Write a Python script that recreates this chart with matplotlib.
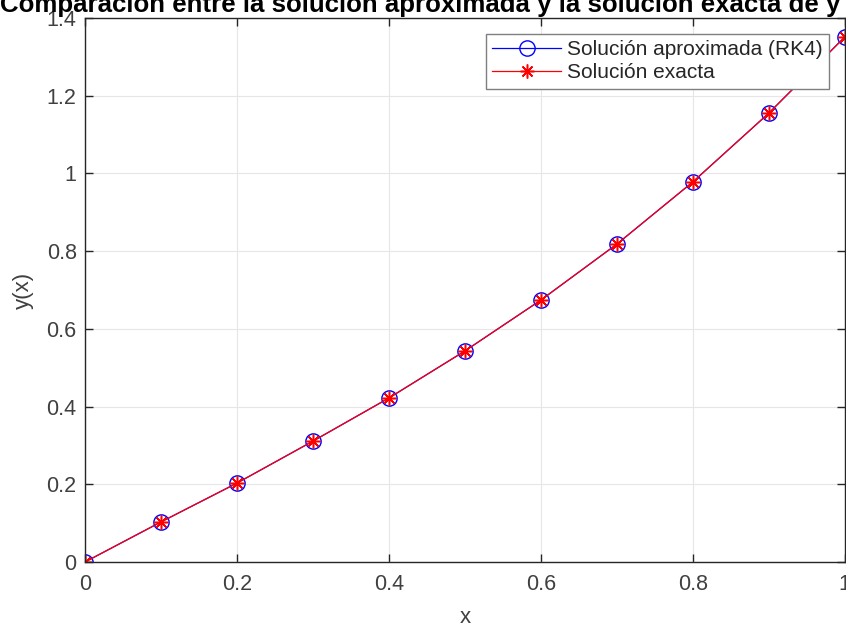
import matplotlib
matplotlib.use('Agg')
from matplotlib import pyplot as plt

# datos
x = [0.0, 0.1, 0.2, 0.3, 0.4, 0.5, 0.6, 0.7, 0.8, 0.9, 1.0]
y_rk4 = [0.0, 0.103, 0.203, 0.311, 0.422, 0.543, 0.674, 0.818, 0.978, 1.155, 1.351]
y_exacta = [0.0, 0.103, 0.203, 0.311, 0.422, 0.543, 0.674, 0.818, 0.978, 1.155, 1.351]

plt.rcParams['font.family'] = ['Liberation Sans', 'DejaVu Sans']
gris = '#404040'

fig = plt.figure(figsize=(8.46, 6.27), dpi=100)
ax = fig.add_axes([0.1005, 0.1037, 0.898, 0.8676])

ax.plot(x, y_rk4, color='blue', marker='o', markersize=11, markerfacecolor='none',
        markeredgewidth=1, linewidth=0.9, label='Solución aproximada (RK4)')
ax.plot(x, y_exacta, color='red', marker=(8, 2, 0), markersize=10,
        markeredgecolor='red', markeredgewidth=1.1, linewidth=0.9,
        label='Solución exacta')

ax.set_xlim(0, 1)
ax.set_ylim(0, 1.4)
ax.set_xticks([0, 0.2, 0.4, 0.6, 0.8, 1])
ax.set_xticklabels(['0', '0.2', '0.4', '0.6', '0.8', '1'])
ax.set_yticks([0, 0.2, 0.4, 0.6, 0.8, 1, 1.2, 1.4])
ax.set_yticklabels(['0', '0.2', '0.4', '0.6', '0.8', '1', '1.2', '1.4'])
ax.tick_params(direction='in', length=6, width=1, colors='#262626', labelsize=15.5,
               labelcolor=gris, top=True, right=True)
ax.tick_params(axis='x', pad=9)
ax.tick_params(axis='y', pad=6)
ax.grid(True, color='#e6e6e6', linewidth=0.8)
ax.set_axisbelow(True)
for s in ax.spines.values():
    s.set_color('#262626')
    s.set_linewidth(1)

ax.set_xlabel('x', fontsize=16, color=gris, labelpad=8)
ax.set_ylabel('y(x)', fontsize=16, color=gris, labelpad=9)
# titulo centrado en la figura (como en el original, recortado arriba)
fig.text(0.4965, 1 - 12 / 627, 'Comparación entre la solución aproximada y la solución exacta de y',
         fontsize=18.6, fontweight='bold', ha='center', va='baseline')

leg = ax.legend(loc='upper right', fontsize=15, fancybox=False, framealpha=1,
                edgecolor='#7f7f7f', borderaxespad=0.75, handlelength=3.3,
                handletextpad=0.3, borderpad=0.3, labelspacing=0.22)
leg.get_frame().set_linewidth(1)
for t in leg.get_texts():
    t.set_color('#262626')

plt.savefig('out.png', dpi=100)
